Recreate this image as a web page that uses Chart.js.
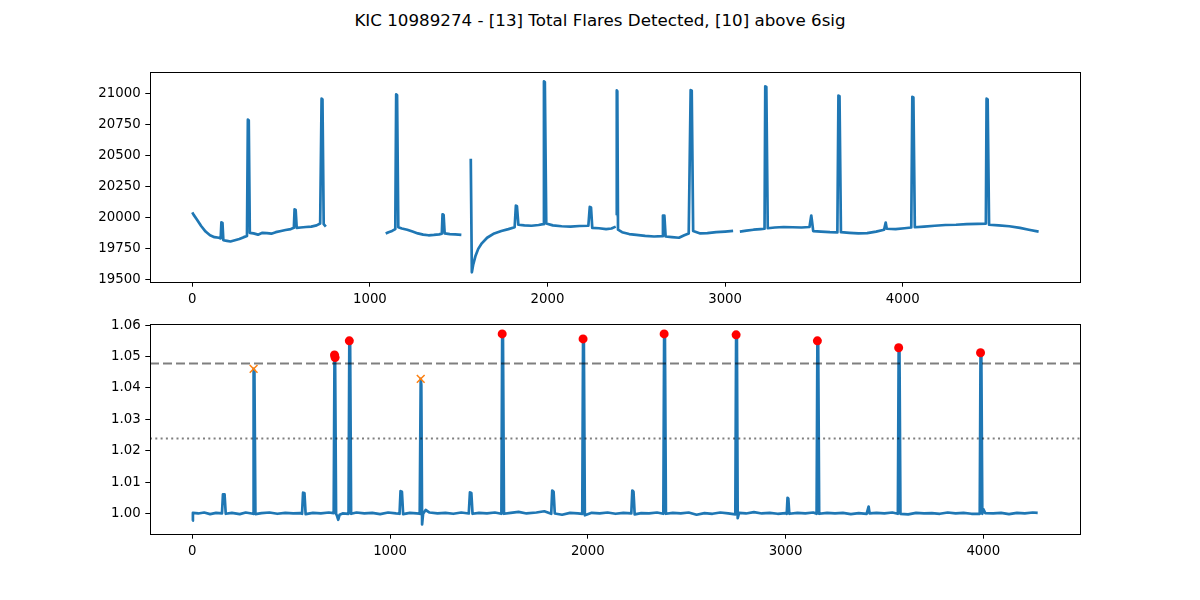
<!DOCTYPE html>
<html>
<head>
<meta charset="utf-8">
<script src="https://cdn.jsdelivr.net/npm/chart.js@4/dist/chart.umd.min.js"></script>
<style>
  body { margin: 0; background: #fff; }
  #wrap { position: relative; width: 1200px; height: 600px; overflow: hidden; }
  #title { position: absolute; top: 10px; left: 0; width: 1200px; text-align: center;
           font-family: "DejaVu Sans", sans-serif; font-size: 16.7px; color: #000; }
  canvas { position: absolute; left: 0; }
  #topChart { top: 0; }
  #botChart { top: 300px; }
</style>
</head>
<body>
<div id="wrap">
  <div id="title">KIC 10989274 - [13] Total Flares Detected, [10] above 6sig</div>
  <canvas id="topChart" width="1200" height="320"></canvas>
  <canvas id="botChart" width="1200" height="300"></canvas>
</div>
<script>
'use strict'

// raw light curve (null = gap in the data)
var topTime = [0, 8, 25, 50, 75, 100, 125, 150, 160, 164, 170, 175, 195, 215, 240, 265, 290, 308, 313, 318, 324,
    345, 370, 395, 420, 445, 470, 500, 525, 555, 572, 576, 582, 588, 610, 640, 670, 700, 720, 728, 733, 740, 752,
    900,
    1089, 1105, 1125, 1143, 1148, 1153, 1160, 1180, 1210, 1240, 1270, 1300, 1330, 1360, 1390, 1405, 1409, 1415, 1421,
    1450, 1480, 1515,
    1540,
    1568, 1574, 1582, 1595, 1610, 1630, 1660, 1700, 1740, 1780, 1815, 1822, 1828, 1836, 1870, 1910, 1950, 1975, 1980,
    1985, 1993, 2030, 2080, 2130, 2180, 2230, 2238, 2245, 2252, 2290, 2330, 2360, 2384,
    2386,
    2388, 2390, 2393, 2397, 2420, 2460, 2500, 2550, 2600, 2645, 2650, 2658, 2665, 2700, 2740, 2770, 2795, 2806, 2812,
    2820, 2860, 2900, 2950, 3000, 3045,
    3060,
    3083, 3120, 3160, 3200, 3222, 3226, 3232, 3240, 3280, 3330, 3380, 3430, 3475, 3485, 3490, 3496, 3540, 3590, 3632,
    3638, 3644, 3652, 3700, 3750, 3800, 3850, 3895, 3904, 3910, 3960, 4010, 4048, 4054, 4060, 4068, 4120, 4180, 4240,
    4300, 4360, 4420, 4468, 4472, 4478, 4486, 4540, 4600, 4660, 4710, 4765];
var topFlux = [20040, 20020, 19985, 19930, 19885, 19855, 19840, 19835, 19830, 19960, 19955, 19815, 19810, 19805, 19815,
    19825, 19840, 19850, 20790, 20785, 19875,
    19870, 19860, 19875, 19872, 19868, 19880, 19890, 19898, 19905, 19915, 20065, 20060, 19915, 19918, 19922, 19925,
    19935, 19950, 20960, 20955, 19945, 19925,
    null,
    19870, 19880, 19890, 19905, 20995, 20990, 19920, 19910, 19900, 19885, 19870, 19860, 19855, 19858, 19862, 19868,
    20025, 20020, 19870, 19865, 19862, 19858,
    null,
    20475, 19555, 19620, 19690, 19745, 19790, 19835, 19870, 19890, 19905, 19920, 20095, 20090, 19940, 19935, 19932,
    19938, 19945, 21100, 21095, 19950, 19935, 19928, 19925, 19930, 19932, 20085, 20080, 19915, 19912, 19905, 19910,
    19925,
    null,
    20017, 21027, 21020, 19900, 19880, 19865, 19858, 19850, 19845, 19848, 20015, 20015, 19845, 19840, 19835, 19855,
    19870, 21030, 21025, 19890, 19870, 19872, 19880, 19885, 19890,
    null,
    19885, 19892, 19900, 19905, 19908, 21060, 21055, 19912, 19918, 19922, 19920, 19918, 19922, 20015, 19960, 19888,
    19885, 19880, 19878, 20985, 20980, 19880, 19875, 19870, 19872, 19885, 19900, 19958, 19908, 19905, 19912, 19918,
    20975, 20970, 19920, 19925, 19932, 19938, 19940, 19945, 19948, 19950, 20960, 20955, 19940, 19935, 19928, 19915,
    19900, 19885];

// detrended, normalised light curve
var botTime = [0, 3, 30, 60, 90, 120, 150, 155, 163, 169, 200, 240, 270, 300, 307, 310, 314, 319, 350, 390, 430, 470,
    510, 545, 555, 560, 567, 573, 610, 650, 690, 715, 719, 722, 727, 732, 738, 745, 760, 790, 794, 798, 803, 830, 870,
    910, 950, 990, 1030, 1048, 1053, 1060, 1066, 1100, 1135, 1150, 1155, 1158, 1162, 1167, 1180, 1200, 1240, 1280,
    1320, 1360, 1398, 1404, 1411, 1417, 1450, 1490, 1530, 1563, 1567, 1571, 1576, 1610, 1650, 1690, 1740, 1780, 1815,
    1820, 1827, 1833, 1870, 1910, 1950, 1972, 1976, 1980, 1985, 2020, 2060, 2100, 2140, 2180, 2220, 2225, 2231, 2237,
    2270, 2310, 2350, 2382, 2386, 2390, 2395, 2430, 2470, 2510, 2550, 2590, 2630, 2670, 2710, 2746, 2750, 2754, 2758,
    2765, 2800, 2840, 2880, 2920, 2960, 3000, 3006, 3010, 3014, 3019, 3060, 3100, 3140, 3157, 3161, 3165, 3170, 3210,
    3250, 3290, 3330, 3370, 3410, 3420, 3425, 3460, 3500, 3540, 3568, 3572, 3576, 3581, 3620, 3660, 3700, 3740, 3780,
    3820, 3860, 3900, 3940, 3982, 3986, 3990, 3995, 4000, 4010, 4050, 4090, 4130, 4170, 4210, 4250, 4275];
var botFlux = [0.9978, 1.0003, 1.0001, 1.0004, 0.9999, 1.0003, 1.0001, 1.0062, 1.0062, 1.0, 1.0003, 0.9999, 1.0004,
    1.0001, 1.0, 1.0461, 1.0455, 0.9999, 1.0002, 1.0004, 1.0, 1.0003, 1.0001, 1.0002, 1.0, 1.0067, 1.0066, 0.9999,
    1.0003, 1.0001, 1.0004, 1.0002, 1.0505, 1.0500, 1.0, 0.9993, 0.9981, 0.9997, 1.0001, 1.0, 1.055, 1.0545, 1.0,
    1.0004, 1.0001, 1.0003, 0.9999, 1.0004, 1.0001, 1.0, 1.0072, 1.007, 0.9999, 1.0003, 1.0001, 1.0, 1.0429, 1.041,
    0.9966, 1.0, 1.0012, 1.0004, 1.0001, 1.0003, 1.0, 1.0004, 1.0001, 1.0068, 1.0066, 1.0, 1.0003, 1.0001, 1.0004,
    1.0, 1.0572, 1.0565, 1.0, 1.0003, 1.0006, 1.0001, 1.0004, 1.0008, 1.0, 1.0074, 1.007, 1.0001, 0.9997, 1.0003,
    1.0001, 1.0, 1.0556, 1.055, 0.9995, 1.0003, 1.0001, 1.0004, 1.0, 1.0003, 1.0001, 1.0074, 1.007, 0.9998, 1.0002,
    1.0001, 1.0004, 1.0, 1.0572, 1.0565, 1.0, 1.0003, 1.0001, 1.0004, 0.9997, 1.0002, 1.0, 1.0004, 1.0001, 0.9998,
    1.0569, 1.0563, 0.9986, 1.0003, 1.0001, 1.0005, 1.0001, 1.0003, 1.0, 1.0002, 1.0, 1.0051, 1.0048, 1.0, 1.0003,
    1.0001, 1.0004, 1.0, 1.055, 1.0545, 1.0, 1.0003, 1.0001, 1.0003, 0.9999, 1.0002, 1.0, 1.0023, 1.0001, 1.0003,
    1.0001, 1.0004, 1.0, 1.0528, 1.0522, 1.0, 0.9998, 1.0003, 1.0001, 1.0002, 1.0, 1.0004, 1.0001, 1.0003, 1.0, 1.0,
    1.0512, 1.0507, 1.0, 1.0015, 1.0002, 1.0001, 1.0003, 0.9999, 1.0003, 1.0001, 1.0004, 1.0003];

// flare peaks above 6 sigma (red) and weaker candidates (orange)
var peakTime = [719, 722, 794, 1567, 1976, 2386, 2750, 3161, 3572, 3986];
var peakFlux = [1.0505, 1.0497, 1.055, 1.0572, 1.0556, 1.0572, 1.0569, 1.055, 1.0528, 1.0512];
var candTime = [310, 1155];
var candFlux = [1.0461, 1.0429];

var sig6Level = 1.0478;
var sig3Level = 1.0239;

var topXTicks = [0, 1000, 2000, 3000, 4000];
var topYTicks = [19500, 19750, 20000, 20250, 20500, 20750, 21000];
var botXTicks = [0, 1000, 2000, 3000, 4000];
var botYTicks = [1.00, 1.01, 1.02, 1.03, 1.04, 1.05, 1.06];

function toPoints(xs, ys) {
    return xs.map(function (x, i) { return {x: x, y: ys[i]}; });
}

var tickFont = {family: 'DejaVu Sans', size: 13.3};

function axis(min, max, ticks, fmt, pos, size) {
    return {
        type: 'linear',
        position: pos,
        min: min,
        max: max,
        afterBuildTicks: function (scale) {
            scale.ticks = ticks.map(function (v) { return {value: v}; });
        },
        afterFit: function (scale) {
            if (pos === 'left') scale.width = size; else scale.height = size;
        },
        ticks: {
            font: tickFont,
            color: '#000',
            padding: 4.7,
            autoSkip: false,
            maxRotation: 0,
            callback: fmt
        },
        grid: {
            drawOnChartArea: false,
            drawTicks: true,
            tickLength: 4.7,
            tickColor: '#000',
            tickWidth: 1
        },
        border: {display: true, color: '#000', width: 1}
    };
}

var frame = {
    id: 'frame',
    afterDraw: function (chart) {
        var a = chart.chartArea, c = chart.ctx;
        c.save();
        c.strokeStyle = '#000';
        c.lineWidth = 1;
        c.strokeRect(Math.round(a.left) + 0.5, Math.round(a.top) + 0.5,
            Math.round(a.right - a.left), Math.round(a.bottom - a.top));
        c.restore();
    }
};

var plain = function (v) { return String(v); };
var twoDp = function (v) { return v.toFixed(2); };

var curveStyle = {
    borderColor: '#1f77b4',
    borderWidth: 2.7,
    borderJoinStyle: 'round',
    borderCapStyle: 'butt',
    pointRadius: 0,
    tension: 0
};

var topCtx = document.getElementById('topChart').getContext('2d');
var topChart = new Chart(topCtx, {
    type: 'line',
    data: {
        datasets: [Object.assign({data: toPoints(topTime, topFlux), spanGaps: false}, curveStyle)]
    },
    options: {
        responsive: false,
        animation: false,
        layout: {padding: {top: 72, right: 120, left: 0, bottom: 0}},
        plugins: {legend: {display: false}, tooltip: {enabled: false}},
        scales: {
            x: axis(-238, 4998, topXTicks, plain, 'bottom', 38),
            y: axis(19477, 21176, topYTicks, plain, 'left', 150)
        }
    },
    plugins: [frame]
});

var xMin = -214, xMax = 4489;
var botCtx = document.getElementById('botChart').getContext('2d');
var botChart = new Chart(botCtx, {
    type: 'line',
    data: {
        datasets: [Object.assign({data: toPoints(botTime, botFlux), order: 3}, curveStyle), {
            data: [{x: xMin, y: sig6Level}, {x: xMax, y: sig6Level}],
            borderColor: 'rgba(0,0,0,0.5)',
            borderWidth: 2,
            borderDash: [9, 4],
            pointRadius: 0,
            order: 2
        }, {
            data: [{x: xMin, y: sig3Level}, {x: xMax, y: sig3Level}],
            borderColor: 'rgba(0,0,0,0.5)',
            borderWidth: 2,
            borderDash: [2, 3.3],
            pointRadius: 0,
            order: 2
        }, {
            data: toPoints(candTime, candFlux),
            showLine: false,
            pointStyle: 'crossRot',
            pointRadius: 5.5,
            pointBorderColor: '#ff7f0e',
            pointBorderWidth: 1.5,
            order: 1
        }, {
            data: toPoints(peakTime, peakFlux),
            showLine: false,
            pointStyle: 'circle',
            pointRadius: 4.5,
            pointBackgroundColor: '#ff0000',
            pointBorderColor: '#ff0000',
            pointBorderWidth: 0,
            order: 0
        }]
    },
    options: {
        responsive: false,
        animation: false,
        layout: {padding: {top: 24, right: 120, left: 0, bottom: 0}},
        plugins: {legend: {display: false}, tooltip: {enabled: false}},
        scales: {
            x: axis(xMin, xMax, botXTicks, plain, 'bottom', 66),
            y: axis(0.99357, 1.06035, botYTicks, twoDp, 'left', 150)
        }
    },
    plugins: [frame]
});
</script>
</body>
</html>
